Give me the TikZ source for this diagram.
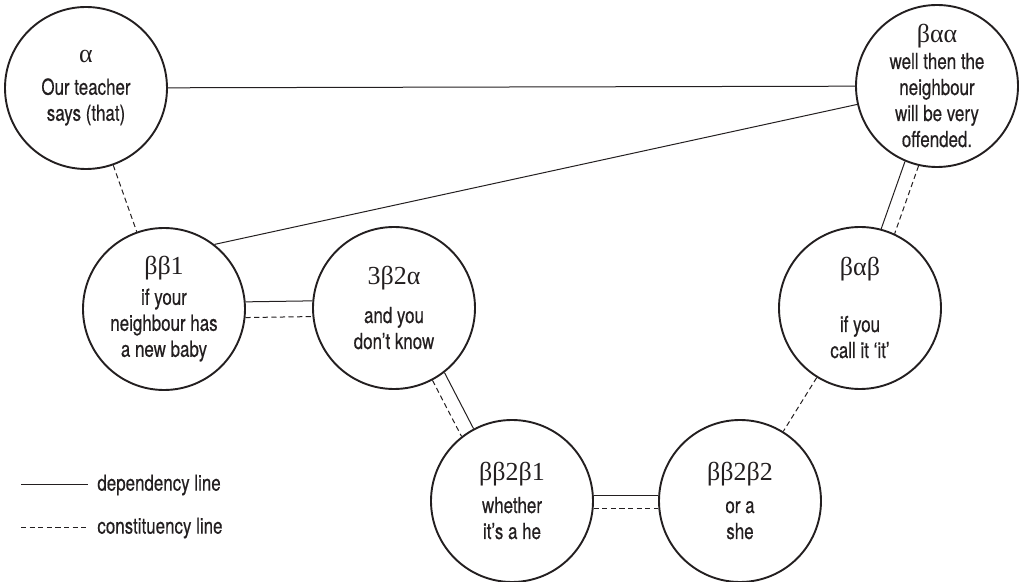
\documentclass[tikz,border=0pt]{standalone}
\usepackage{fontspec}
\setmainfont{TeX Gyre Heros}[FakeStretch=0.77,FakeBold=0.4]
\newfontfamily\greekfont{Liberation Serif}
\usepackage{xcolor}
\usetikzlibrary{positioning}
\definecolor{inkgray}{RGB}{35,31,32}
\newcommand{\rank}[1]{{\greekfont\fontsize{13}{13}\selectfont #1}}

\begin{document}
\begin{tikzpicture}[x=0.5pt,y=-0.5pt,
    every node/.style={font=\fontsize{11}{13}\selectfont,text=inkgray},
    clause/.style={draw=inkgray,circle,line width=0.95pt,minimum size=81pt,
      inner sep=0pt,align=center},
    deplink/.style={draw=inkgray,line width=0.5pt},
    conlink/.style={draw=inkgray,line width=0.5pt,dash pattern=on 2.6pt off 1.7pt}]
  \useasboundingbox (0,0) rectangle (1023,582);
  % clauses
  \node[clause] (a) at (86,88) {\rank{α}\\[3pt]Our teacher\\says (that)};
  \node[clause] (baa) at (937,86) {\rank{βαα}\\well then the\\neighbour\\will be very\\offended.};
  \node[clause] (bb1) at (164,309) {\rank{ββ1}\\[2pt]if your\\neighbour has\\a new baby};
  \node[clause] (b2a) at (394,308) {\rank{3β2α}\\[6pt]and you\\don’t know};
  \node[clause] (bab) at (860,308) {\rank{βαβ}\\[15pt]if you\\call it ‘it’};
  \node[clause] (bb2b1) at (512,501) {\rank{ββ2β1}\\[3pt]whether\\it’s a he};
  \node[clause] (bb2b2) at (740,501) {\rank{ββ2β2}\\[3pt]or a\\she};
  % dependency and constituency lines
  \draw[deplink] (a) -- (baa);
  \draw[deplink] (bb1.52) -- (baa.193);
  \draw[conlink] (a) -- (bb1);
  \draw[deplink] (bb1.5) -- (b2a.175);
  \draw[conlink] (bb1.-6) -- (b2a.186);
  \draw[deplink] (b2a.-52) -- (bb2b1.118);
  \draw[conlink] (b2a.-62) -- (bb2b1.128);
  \draw[deplink] (bb2b1.4) -- (bb2b2.176);
  \draw[conlink] (bb2b1.-5) -- (bb2b2.185);
  \draw[deplink] (baa.247) -- (bab.75);
  \draw[conlink] (baa.257) -- (bab.65);
  \draw[conlink] (bab) -- (bb2b2);
  % legend
  \coordinate (depa) at (21,485);
  \coordinate (depb) at (88,485);
  \coordinate (cona) at (21,528);
  \coordinate (conb) at (88,528);
  \draw[deplink] (depa) -- (depb);
  \draw[conlink] (cona) -- (conb);
  \node[anchor=west,inner sep=0pt] (deplbl) at (97,485) {dependency line};
  \node[anchor=west,inner sep=0pt] (conlbl) at (97,528) {constituency line};
\end{tikzpicture}
\end{document}
